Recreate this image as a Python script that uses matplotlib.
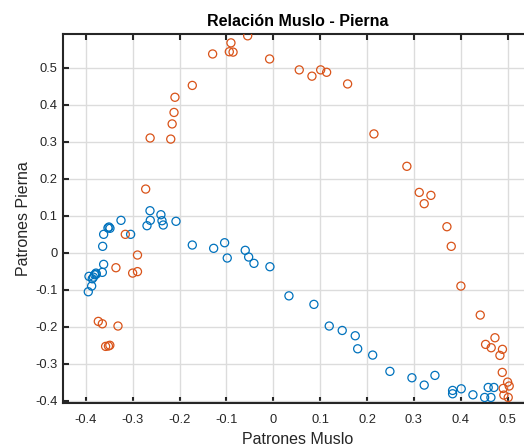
import numpy as np
import matplotlib.pyplot as plt
from matplotlib.ticker import FuncFormatter

# muslo (x) / pierna (y) patterns, first group
muslo_1 = [-0.2633, -0.24, -0.3252, -0.2627, -0.2377, -0.2078, -0.2697, -0.235,
           -0.3508, -0.3487, -0.353, -0.3622, -0.3046, -0.3643, -0.173, -0.1274,
           -0.104, -0.0984, -0.06, -0.0527, -0.0414, -0.0073, 0.0333, -0.3622,
           -0.365, -0.3786, -0.3935, -0.3814, -0.3865, -0.378, -0.384, -0.3878,
           -0.395, 0.0866, 0.1193, 0.147, 0.1748, 0.18, 0.212, 0.2488, 0.2958,
           0.322, 0.3449, 0.3826, 0.3826, 0.401, 0.426, 0.451, 0.4586, 0.4708,
           0.4644]
pierna_1 = [0.1135, 0.1027, 0.0875, 0.0875, 0.0865, 0.0849, 0.073, 0.0749,
            0.0695, 0.066, 0.067, 0.0497, 0.0497, 0.0173, 0.0208, 0.0119,
            0.027, -0.0143, 0.0065, -0.0116, -0.0287, -0.0378, -0.1165, -0.0314,
            -0.053, -0.055, -0.0638, -0.0594, -0.0703, -0.058, -0.066, -0.09,
            -0.1054, -0.1395, -0.198, -0.21, -0.2243, -0.2595, -0.2765, -0.3205,
            -0.3378, -0.3576, -0.3314, -0.372, -0.381, -0.3676, -0.3838, -0.391,
            -0.364, -0.364, -0.391]

# second group
muslo_2 = [-0.0548, -0.0905, -0.094, -0.086, -0.1296, -0.008, -0.173, -0.21,
           -0.212, -0.216, -0.263, -0.219, -0.2725, 0.0553, 0.0824, 0.101,
           0.1137, 0.1585, 0.2147, 0.285, 0.3114, 0.3363, 0.322, 0.3705, 0.3797,
           0.4003, 0.4416, 0.473, 0.453, 0.465, 0.489, 0.4836, 0.4886, 0.5,
           0.5034, 0.4906, 0.492, 0.5013, -0.316, -0.29, -0.336, -0.3003, -0.29,
           -0.3736, -0.365, -0.3316, -0.358, -0.352, -0.349]
pierna_2 = [0.586, 0.567, 0.543, 0.542, 0.537, 0.5235, 0.452, 0.42, 0.379,
            0.348, 0.31, 0.307, 0.172, 0.494, 0.477, 0.494, 0.4875, 0.456,
            0.321, 0.2335, 0.163, 0.155, 0.1325, 0.0703, 0.0173, -0.09, -0.1684,
            -0.2297, -0.2476, -0.2567, -0.261, -0.2774, -0.3233, -0.3495, -0.36,
            -0.3666, -0.3846, -0.391, 0.0497, -0.0062, -0.0405, -0.055, -0.051,
            -0.1855, -0.192, -0.198, -0.253, -0.252, -0.25]

ticks = [-0.4, -0.3, -0.2, -0.1, 0, 0.1, 0.2, 0.3, 0.4, 0.5]

plt.rcParams['font.family'] = ['Liberation Sans', 'DejaVu Sans']

fig = plt.figure(figsize=(5.24, 4.47), dpi=100)
# axes runs a bit past the right border of the figure
ax = fig.add_axes([0.1202, 0.0984, 0.895, 0.8256])

ax.scatter(muslo_1, pierna_1, s=34, facecolors='none', edgecolors='#0072BD',
           linewidths=0.9, zorder=3)
ax.scatter(muslo_2, pierna_2, s=34, facecolors='none', edgecolors='#D95319',
           linewidths=0.9, zorder=3)

ax.set_xlim(-0.449, 0.552)
ax.set_ylim(-0.406, 0.591)
ax.set_xticks(ticks)
ax.set_yticks(ticks)
fmt = FuncFormatter(lambda v, p: '%g' % round(v, 2))
ax.xaxis.set_major_formatter(fmt)
ax.yaxis.set_major_formatter(fmt)

ax.grid(True, color='#dcdcdc', linewidth=1.0, zorder=0)
ax.set_axisbelow(True)
for sp in ax.spines.values():
    sp.set_color('#262626')
    sp.set_linewidth(1.5)
ax.tick_params(direction='in', length=4.5, width=1.5, color='#262626',
               labelsize=9.3, labelcolor='#262626', top=True, right=True, pad=4)
ax.tick_params(axis='x', pad=8)

ax.set_title('Relación Muslo - Pierna', fontsize=11.5, fontweight='bold', pad=6)
ax.set_xlabel('Patrones Muslo', fontsize=11.5, color='#262626', labelpad=4)
ax.set_ylabel('Patrones Pierna', fontsize=11.5, color='#262626', labelpad=3)

fig.savefig('out.png', dpi=100)
